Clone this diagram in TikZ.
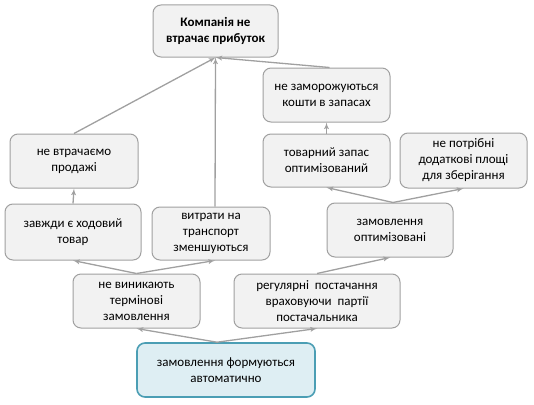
\documentclass[tikz,border=0pt]{standalone}
\usepackage{fontspec}
\setmainfont{Carlito}
\usepackage[x11names, svgnames, rgb]{xcolor}
\usetikzlibrary{arrows, positioning, calc}
\definecolor{boxgray}{RGB}{242,242,242}
\definecolor{linegray}{RGB}{160,160,160}
\definecolor{autoblue}{RGB}{222,238,243}
\definecolor{autoteal}{RGB}{75,158,180}

\begin{document}
\begin{tikzpicture}[>=latex', x=1pt, y=-1pt,
    box/.style={draw=linegray, fill=boxgray, rounded corners=8pt, line width=1pt,
        align=center, inner sep=2pt, font=\fontsize{13}{16}\selectfont},
    autobox/.style={box, draw=autoteal, fill=autoblue, line width=1.6pt},
    arr/.style={->, draw=linegray, line width=1.3pt}]
    \useasboundingbox (0,0) rectangle (534,404);
    % boxes
    \node[box, minimum width=125pt, minimum height=52pt, font=\fontsize{13}{16}\selectfont\bfseries]
        (pributok) at (215.5,31) {Компанія не\\втрачає прибуток};
    \node[box, minimum width=127pt, minimum height=54pt] (zamoroz) at (326.5,95) {не заморожуються\\кошти в запасах};
    \node[box, minimum width=127pt, minimum height=53pt] (tovar) at (326.5,160.5) {товарний запас\\оптимізований};
    \node[box, minimum width=127pt, minimum height=55pt] (ploshchi) at (463.5,160.5) {не потрібні\\додаткові площі\\для зберігання};
    \node[box, minimum width=126pt, minimum height=54pt] (zamopt) at (390,230) {замовлення\\оптимізовані};
    \node[box, minimum width=128pt, minimum height=54pt] (prodazh) at (74,161) {не втрачаємо\\продажі};
    \node[box, minimum width=136pt, minimum height=56pt] (khodovyi) at (73,232) {завжди є ходовий\\товар};
    \node[box, minimum width=118pt, minimum height=53pt] (transport) at (211,233.5) {витрати на\\транспорт\\зменшуються};
    \node[box, minimum width=127pt, minimum height=54pt] (terminovi) at (136.5,301) {не виникають\\термінові\\замовлення};
    \node[box, minimum width=166pt, minimum height=54pt] (regul) at (317,301) {регулярні~ постачання\\враховуючи~ партії\\постачальника};
    \node[autobox, minimum width=178pt, minimum height=54pt] (avto) at (226,370) {замовлення формуються\\автоматично};
    % connectors
    \draw[arr] ([xshift=-9pt]avto.north) -- (terminovi.south);
    \draw[arr] ([xshift=-9pt]avto.north) -- (regul.south);
    \draw[arr] (terminovi.north) -- (khodovyi.south);
    \draw[arr] (terminovi.north) -- ([xshift=4pt]transport.south);
    \draw[arr] (regul.north) -- (zamopt.south);
    \draw[arr] ([xshift=3pt]zamopt.north) -- (tovar.south);
    \draw[arr] ([xshift=3pt]zamopt.north) -- (ploshchi.south);
    \draw[arr] (tovar.north) -- (zamoroz.south);
    \draw[arr] (khodovyi.north) -- (prodazh.south);
    \draw[arr] (prodazh.north) -- (pributok.south);
    \draw[arr] ([xshift=4pt]transport.north) -- (pributok.south);
    \draw[arr] ([xshift=3pt]zamoroz.north) -- (pributok.south);
\end{tikzpicture}
\end{document}
